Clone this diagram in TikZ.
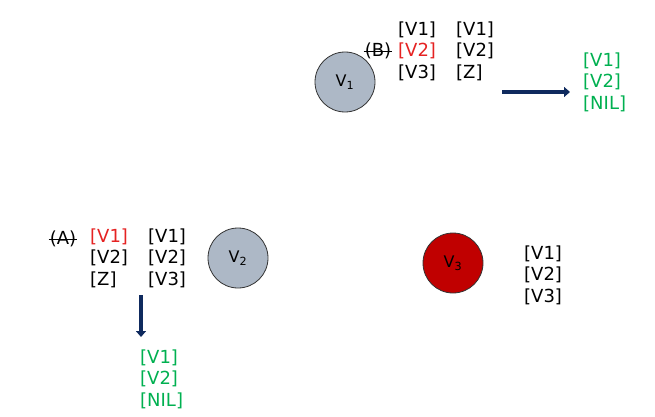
\documentclass[tikz,border=0pt]{standalone}
\usepackage{fontspec}
\setmainfont{DejaVu Sans}
\usetikzlibrary{arrows.meta}
\definecolor{vgray}{HTML}{ADB8C6}
\definecolor{vred}{HTML}{C00000}
\definecolor{lred}{HTML}{E52222}
\definecolor{lgreen}{HTML}{00B050}
\definecolor{navy}{HTML}{0F2A5E}
\tikzset{
  vertex/.style={circle, draw=black!80, line width=0.8pt, minimum size=60pt, inner sep=0pt, font=\fontsize{16}{18}\selectfont},
  lst/.style={anchor=west, align=left, inner sep=0pt, font=\fontsize{18}{21.5}\selectfont},
  tag/.style={inner sep=0pt, font=\fontsize{18}{21.5}\selectfont},
  flow/.style={navy, line width=3.5pt, -{Triangle[length=6pt,width=10pt]}}
}
\begin{document}
\begin{tikzpicture}[x=1pt,y=-1pt]
  \useasboundingbox (0,0) rectangle (655,417);

  % vertices
  \node[vertex, fill=vgray] (v1) at (345,82) {V\textsubscript{1}};
  \node[vertex, fill=vgray] (v2) at (238,258) {V\textsubscript{2}};
  \node[vertex, fill=vred] (v3) at (453,263) {V\textsubscript{3}};

  % lists at V1
  \node[tag] (b) at (378,51) {(B)};
  \draw[line width=0.7pt] ([xshift=-1pt]b.west) -- ([xshift=1pt]b.east);
  \node[lst] (b1) at (398,51) {{[V1]}\\\textcolor{lred}{[V2]}\\{[V3]}};
  \node[lst] (b2) at (456,51) {{[V1]}\\{[V2]}\\{[Z]}};
  \node[lst, text=lgreen] (bres) at (583,82) {{[V1]}\\{[V2]}\\{[NIL]}};
  \coordinate (bs) at (502,92);
  \coordinate (be) at (570,92);
  \draw[flow] (bs) -- (be);

  % lists at V2
  \node[tag] (a) at (63,239) {(A)};
  \draw[line width=0.7pt] ([xshift=-1pt]a.west) -- ([xshift=1pt]a.east);
  \node[lst] (a1) at (90,258) {\textcolor{lred}{[V1]}\\{[V2]}\\{[Z]}};
  \node[lst] (a2) at (148,258) {{[V1]}\\{[V2]}\\{[V3]}};
  \node[lst, text=lgreen] (ares) at (140,379) {{[V1]}\\{[V2]}\\{[NIL]}};
  \coordinate (as) at (141,295);
  \coordinate (ae) at (141,337);
  \draw[flow] (as) -- (ae);

  % list at V3
  \node[lst] (c1) at (524,275) {{[V1]}\\{[V2]}\\{[V3]}};
\end{tikzpicture}
\end{document}
